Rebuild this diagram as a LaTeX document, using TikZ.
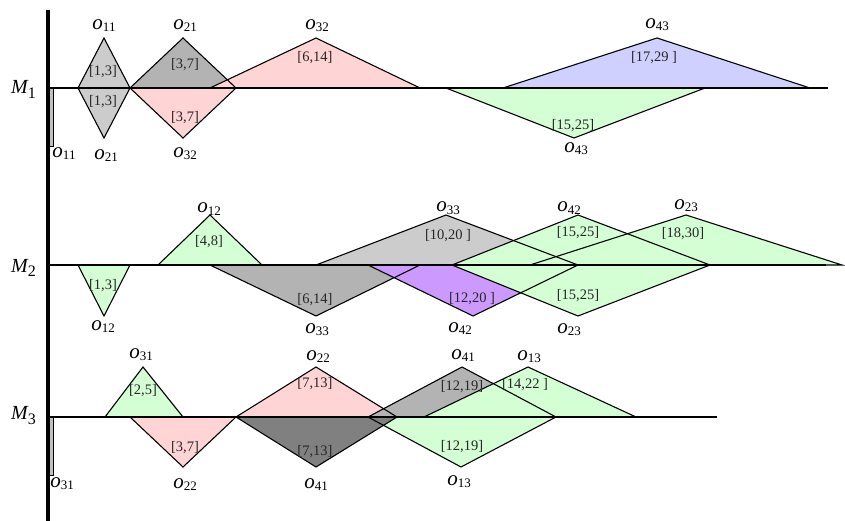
\documentclass[tikz,border=0pt]{standalone}
\usepackage{fontspec}
\setmainfont{Liberation Serif}
\definecolor{lgray}{HTML}{CCCCCC}
\definecolor{mgray}{HTML}{B3B3B3}
\definecolor{dgray}{HTML}{808080}
\definecolor{barcol}{HTML}{C0C0C0}
\definecolor{opink}{HTML}{FFD4D4}
\definecolor{ogreen}{HTML}{D4FFD4}
\definecolor{oblue}{HTML}{D0D0FF}
\definecolor{opurple}{HTML}{CC99FF}
% operation label o_{ij} and machine label M_k
\newcommand\opname[1]{{\itshape o}\raisebox{-2pt}{\fontsize{13}{13}\selectfont #1}}
\newcommand\mname[1]{{\itshape M}\raisebox{-5pt}{\fontsize{16}{16}\selectfont #1}}
% corners of a time window triangle: name, left x, right x, apex x, apex y, base y
\newcommand\optri[6]{\coordinate (#1-l) at (#2,#6);\coordinate (#1-r) at (#3,#6);\coordinate (#1-t) at (#4,#5);}
\newcommand\fillop[2]{\fill[#2] (#1-l) -- (#1-t) -- (#1-r) -- cycle;}
\newcommand\edgeop[1]{\draw[edge] (#1-l) -- (#1-t) -- (#1-r) -- cycle;}
\begin{document}
\begin{tikzpicture}[x=1pt,y=-1pt,
  edge/.style={line width=1.1pt,line join=miter},
  axisline/.style={line width=2.2pt},
  olab/.style={anchor=base,inner sep=0pt,font=\fontsize{21}{21}\selectfont},
  ival/.style={inner sep=0pt,text=black!85,font=\fontsize{14.5}{14.5}\selectfont},
  mlab/.style={anchor=base west,inner sep=0pt,font=\fontsize{20}{20}\selectfont}]
\useasboundingbox (0,0) rectangle (845,521);

% ---- machine M1 (base y = 88)
\optri{a11u}{78}{130}{104}{38}{88}
\optri{a21d}{78}{130}{104}{138}{88}
\optri{a21u}{130}{236}{183}{38}{88}
\optri{a32d}{130}{236}{183}{138}{88}
\optri{a32u}{210}{420}{316}{38}{88}
\optri{a43d}{446}{705}{574}{138}{88}
\optri{a43u}{503}{810}{657}{38}{88}
% ---- machine M2 (base y = 265)
\optri{b12d}{78}{130}{104}{316}{265}
\optri{b12u}{158}{262}{210}{215}{265}
\optri{b33d}{210}{420}{316}{316}{265}
\optri{b33u}{316}{578}{446}{215}{265}
\optri{b42d}{368}{578}{473}{316}{265}
\optri{b42u}{452}{710}{578}{215}{265}
\optri{b23d}{452}{710}{578}{316}{265}
\optri{b23u}{530}{842}{686}{215}{265}
% ---- machine M3 (base y = 417)
\optri{c31u}{105}{183}{143}{367}{417}
\optri{c22d}{130}{236}{183}{467}{417}
\optri{c22u}{236}{397}{316}{367}{417}
\optri{c41d}{236}{397}{316}{467}{417}
\optri{c41u}{368}{556}{462}{367}{417}
\optri{c13d}{368}{556}{461}{467}{417}
\optri{c13u}{424}{636}{528}{367}{417}

% fills, back to front
\fillop{a11u}{lgray}\fillop{a21d}{lgray}
\fillop{a21u}{mgray}\fillop{a32d}{opink}\fillop{a32u}{opink}
\fillop{a43d}{ogreen}\fillop{a43u}{oblue}
\fillop{b12d}{ogreen}\fillop{b12u}{ogreen}
\fillop{b33d}{mgray}\fillop{b42d}{opurple}\fillop{b23d}{ogreen}
\fillop{b33u}{lgray}\fillop{b42u}{ogreen}\fillop{b23u}{ogreen}
\fillop{c31u}{ogreen}\fillop{c22d}{opink}
\fillop{c22u}{opink}\fillop{c41u}{mgray}\fillop{c13u}{ogreen}
\fillop{c13d}{ogreen}\fillop{c41d}{dgray}

% outlines
\edgeop{a11u}\edgeop{a21d}\edgeop{a21u}\edgeop{a32d}\edgeop{a32u}\edgeop{a43d}\edgeop{a43u}
\edgeop{b12d}\edgeop{b12u}\edgeop{b33d}\edgeop{b42d}\edgeop{b23d}\edgeop{b33u}\edgeop{b42u}\edgeop{b23u}
\edgeop{c31u}\edgeop{c22d}\edgeop{c22u}\edgeop{c41u}\edgeop{c13u}\edgeop{c13d}\edgeop{c41d}

% setup bars
\draw[line width=0.8pt,fill=barcol] (48,88) rectangle (53.5,146);
\draw[line width=0.8pt,fill=barcol] (48,417) rectangle (53.5,475);

% machine time lines
\coordinate (m1s) at (47,88);  \coordinate (m1e) at (828,88);
\coordinate (m2s) at (47,265); \coordinate (m2e) at (826,265);
\coordinate (m3s) at (47,417); \coordinate (m3e) at (717,417);
\draw[axisline] (m1s) -- (m1e);
\draw[axisline] (m2s) -- (m2e);
\draw[axisline] (m3s) -- (m3e);
\coordinate (vtop) at (47.5,10); \coordinate (vbot) at (47.5,521);
\draw[line width=4pt] (vtop) -- (vbot);

% machine labels
\node[mlab] (lm1) at (11,94) {\mname{1}};
\node[mlab] (lm2) at (11,272) {\mname{2}};
\node[mlab] (lm3) at (11,419) {\mname{3}};

% operation labels, M1
\node[olab] (la11u) at (104,30) {\opname{11}};
\node[olab] (la21u) at (185,30) {\opname{21}};
\node[olab] (la32u) at (317,30) {\opname{32}};
\node[olab] (la43u) at (657,29) {\opname{43}};
\node[olab] (la11b) at (64,158) {\opname{11}};
\node[olab] (la21d) at (106,160) {\opname{21}};
\node[olab] (la32d) at (185,158) {\opname{32}};
\node[olab] (la43d) at (576,153) {\opname{43}};
% operation labels, M2
\node[olab] (lb12u) at (209,213) {\opname{12}};
\node[olab] (lb33u) at (448,212) {\opname{33}};
\node[olab] (lb42u) at (569,212) {\opname{42}};
\node[olab] (lb23u) at (686,210) {\opname{23}};
\node[olab] (lb12d) at (103,330) {\opname{12}};
\node[olab] (lb33d) at (317,333) {\opname{33}};
\node[olab] (lb42d) at (460,332) {\opname{42}};
\node[olab] (lb23d) at (569,333) {\opname{23}};
% operation labels, M3
\node[olab] (lc31u) at (141,358) {\opname{31}};
\node[olab] (lc22u) at (318,360) {\opname{22}};
\node[olab] (lc41u) at (463,359) {\opname{41}};
\node[olab] (lc13u) at (529,360) {\opname{13}};
\node[olab] (lc31b) at (62,487) {\opname{31}};
\node[olab] (lc22d) at (185,488) {\opname{22}};
\node[olab] (lc41d) at (316,488) {\opname{41}};
\node[olab] (lc13d) at (459,485) {\opname{13}};

% time windows, M1
\node[ival] (wa11u) at (103,72) {[1,3]};
\node[ival] (wa21d) at (103,102) {[1,3]};
\node[ival] (wa21u) at (185,65) {[3,7]};
\node[ival] (wa32d) at (185,118) {[3,7]};
\node[ival] (wa32u) at (315,58) {[6,14]};
\node[ival] (wa43u) at (654,58) {[17,29 ]};
\node[ival] (wa43d) at (573,126) {[15,25]};
% time windows, M2
\node[ival] (wb12d) at (103,286) {[1,3]};
\node[ival] (wb12u) at (209,242) {[4,8]};
\node[ival] (wb33d) at (315,300) {[6,14]};
\node[ival] (wb33u) at (448,236) {[10,20 ]};
\node[ival] (wb42d) at (472,299) {[12,20 ]};
\node[ival] (wb42u) at (578,233) {[15,25]};
\node[ival] (wb23d) at (578,296) {[15,25]};
\node[ival] (wb23u) at (683,234) {[18,30]};
% time windows, M3
\node[ival] (wc31u) at (143,391) {[2,5]};
\node[ival] (wc22d) at (185,448) {[3,7]};
\node[ival] (wc22u) at (315,384) {[7,13]};
\node[ival] (wc41d) at (315,452) {[7,13]};
\node[ival] (wc41u) at (462,387) {[12,19]};
\node[ival] (wc13u) at (525,385) {[14,22 ]};
\node[ival] (wc13d) at (462,447) {[12,19]};
\end{tikzpicture}
\end{document}
